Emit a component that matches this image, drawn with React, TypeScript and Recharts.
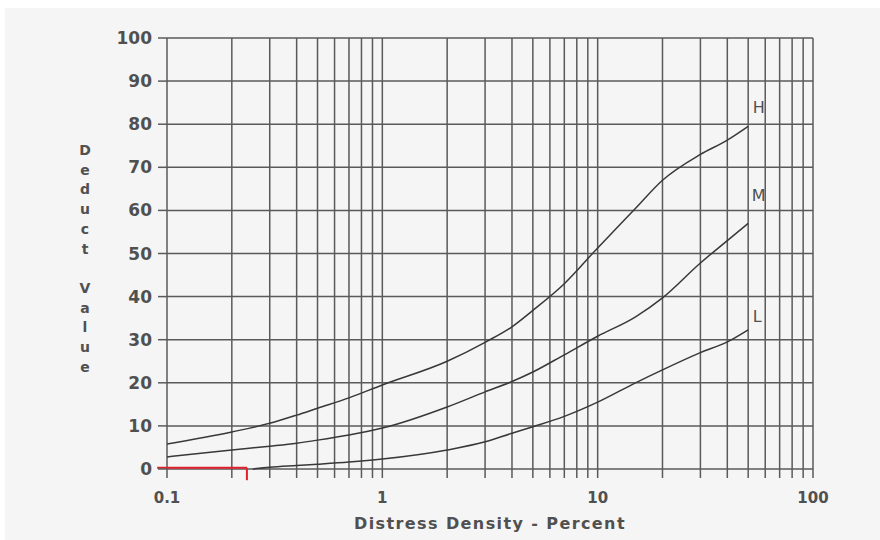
import { LineChart, Line, XAxis, YAxis, CartesianGrid, ReferenceLine, ReferenceDot } from 'recharts'

// distress density (%) and deduct values
const hDensity = [0.1, 0.2, 0.3, 0.4, 0.5, 0.7, 1, 2, 3, 4, 5, 7, 10, 15, 20, 30, 40, 50]
const hDeduct = [5.8, 8.6, 10.6, 12.5, 14.1, 16.5, 19.5, 25, 29.4, 33, 36.8, 43, 51.3, 60.5, 67, 73, 76.3, 79.5]

const mDensity = [0.1, 0.2, 0.3, 0.4, 0.5, 0.7, 1, 2, 3, 4, 5, 7, 10, 15, 20, 30, 40, 50]
const mDeduct = [2.8, 4.4, 5.3, 6, 6.7, 7.9, 9.5, 14.4, 17.9, 20.3, 22.5, 26.5, 30.8, 35.3, 39.7, 47.8, 53, 57]

const lDensity = [0.25, 0.3, 0.4, 0.5, 0.7, 1, 2, 3, 4, 5, 7, 10, 15, 20, 30, 40, 50]
const lDeduct = [0, 0.4, 0.8, 1.1, 1.6, 2.3, 4.4, 6.3, 8.3, 9.8, 12.2, 15.5, 20, 23, 27, 29.5, 32.3]

// log grid lines, labelled only at the decades
const xGrid = [0.1, 0.2, 0.3, 0.4, 0.5, 0.6, 0.7, 0.8, 0.9, 1, 2, 3, 4, 5, 6, 7, 8, 9, 10, 20, 30, 40, 50, 60, 70, 80, 90, 100]
const xLabelled = [0.1, 1, 10, 100]
const yTicks = [0, 10, 20, 30, 40, 50, 60, 70, 80, 90, 100]

// curve names and where their letters sit
const curveNames = ['H', 'M', 'L']
const curveLabelX = [56, 56, 55]
const curveLabelY = [84, 63.5, 35.5]

// red marker on the zero line
const markerX = [0.09, 0.235]
const markerY = [0.3, -2.6]

const yTitle = 'Deduct Value'

const toRows = (xs: number[], ys: number[]) => xs.map((x, i) => ({ x, y: ys[i] }))
const hData = toRows(hDensity, hDeduct)
const mData = toRows(mDensity, mDeduct)
const lData = toRows(lDensity, lDeduct)

const gridColor = '#5a5a5a'
const lineColor = '#383838'
const textColor = '#505050'
const font = 'DejaVu Sans, sans-serif'

const YTitle = ({ viewBox }: any) => {
  const letters = yTitle.split('')
  const step = 19.7
  const cy = viewBox.y + viewBox.height / 2 + 5
  const start = cy - ((letters.length - 1) / 2) * step
  return (
    <text
      x={viewBox.x - 22}
      textAnchor="middle"
      fontFamily={font}
      fontWeight="bold"
      fontSize={14}
      fill={textColor}
    >
      {letters.map((c, i) =>
        c === ' ' ? null : (
          <tspan key={i} x={viewBox.x - 22} y={start + i * step} dy="0.35em">
            {c}
          </tspan>
        )
      )}
    </text>
  )
}

export default function App() {
  return (
    <div style={{ position: 'absolute', left: 0, top: 0, width: 880, height: 540, background: '#fff' }}>
      <div style={{ position: 'absolute', left: 5, top: 8, right: 0, bottom: 0, background: '#f5f5f5' }} />
      <div style={{ position: 'absolute', left: 0, top: 0 }}>
        <LineChart width={880} height={540} margin={{ top: 38, right: 67, bottom: 10, left: 107 }}>
          <CartesianGrid stroke={gridColor} strokeWidth={1.5} />
          <XAxis
            dataKey="x"
            type="number"
            scale="log"
            domain={[0.1, 100]}
            ticks={xGrid}
            allowDataOverflow
            interval={0}
            axisLine={false}
            tickLine={{ stroke: gridColor, strokeWidth: 1.5 }}
            tickSize={9}
            tickMargin={14}
            tickFormatter={(v: number) => (xLabelled.includes(v) ? String(v) : '')}
            tick={{ fill: textColor, fontSize: 15, fontWeight: 'bold', fontFamily: font }}
            height={61}
            label={{
              value: 'Distress Density - Percent',
              position: 'insideBottom',
              offset: 1,
              fill: textColor,
              fontSize: 16,
              fontWeight: 'bold',
              fontFamily: font,
              letterSpacing: 1.4,
            }}
          />
          <YAxis
            type="number"
            domain={[0, 100]}
            ticks={yTicks}
            interval={0}
            width={60}
            axisLine={false}
            tickLine={{ stroke: gridColor, strokeWidth: 1.5 }}
            tickSize={9}
            tickMargin={6}
            tick={{ fill: textColor, fontSize: 17, fontWeight: 'bold', fontFamily: font }}
            label={{ content: YTitle }}
          />
          <Line data={hData} dataKey="y" type="monotone" stroke={lineColor} strokeWidth={1.5} dot={false} isAnimationActive={false} />
          <Line data={mData} dataKey="y" type="monotone" stroke={lineColor} strokeWidth={1.5} dot={false} isAnimationActive={false} />
          <Line data={lData} dataKey="y" type="monotone" stroke={lineColor} strokeWidth={1.5} dot={false} isAnimationActive={false} />
          {curveNames.map((name, i) => (
            <ReferenceDot
              key={name}
              x={curveLabelX[i]}
              y={curveLabelY[i]}
              r={0}
              fill="none"
              stroke="none"
              ifOverflow="visible"
              label={{ value: name, position: 'center', fill: textColor, fontSize: 16, fontFamily: font }}
            />
          ))}
          <ReferenceLine
            segment={[{ x: markerX[0], y: markerY[0] }, { x: markerX[1], y: markerY[0] }]}
            stroke="#e0202a"
            strokeWidth={2}
            ifOverflow="visible"
          />
          <ReferenceLine
            segment={[{ x: markerX[1], y: markerY[0] }, { x: markerX[1], y: markerY[1] }]}
            stroke="#e0202a"
            strokeWidth={2}
            ifOverflow="visible"
          />
        </LineChart>
      </div>
    </div>
  )
}
